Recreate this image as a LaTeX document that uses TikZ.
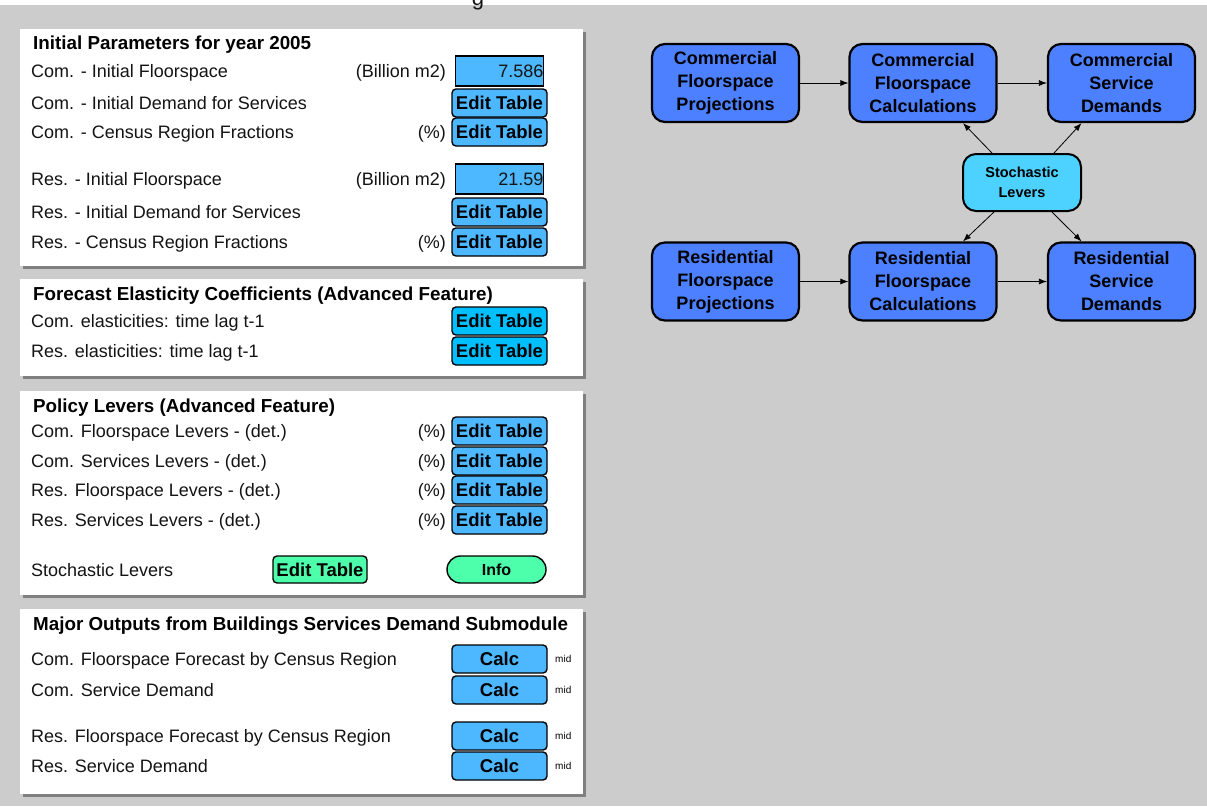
\documentclass[tikz,border=0pt]{standalone}
\usepackage{fontspec}
\setmainfont{Liberation Sans}
\usetikzlibrary{arrows.meta,calc}

\definecolor{bggray}{RGB}{204,204,204}
\definecolor{shadowgray}{RGB}{128,128,128}
\definecolor{btnblue}{RGB}{77,184,255}
\definecolor{btncyan}{RGB}{0,191,255}
\definecolor{btngreen}{RGB}{77,255,170}
\definecolor{flowblue}{RGB}{77,128,255}
\definecolor{flowcyan}{RGB}{77,210,255}
\definecolor{inktext}{RGB}{20,20,20}

\tikzset{
  lbl/.style={inner sep=0pt, yshift=-6.5pt, text=inktext, font=\fontsize{18}{21}\selectfont},
  ttl/.style={inner sep=0pt, yshift=-6.7pt, anchor=base west, text=black, font=\bfseries\fontsize{18.8}{21}\selectfont},
  unitlbl/.style={lbl, anchor=base east},
  rowlbl/.style={lbl, anchor=base west},
  btn/.style={draw=black, line width=1.4pt, rounded corners=4pt, inner sep=0pt,
    minimum width=95pt, minimum height=28pt, text=black,
    font=\bfseries\fontsize{18.5}{21}\selectfont},
  valbox/.style={draw=black, line width=1.8pt, fill=btnblue, inner sep=0pt,
    minimum height=30pt, text width=88pt, align=right, text=inktext,
    font=\fontsize{18}{21}\selectfont},
  pill/.style={btn, rounded corners=13.5pt, minimum width=99pt, minimum height=27pt,
    font=\bfseries\fontsize{16}{18}\selectfont},
  midlbl/.style={inner sep=0pt, anchor=west, text=black, font=\fontsize{10}{12}\selectfont},
  flow/.style={draw=black, line width=2.2pt, rounded corners=13pt, fill=flowblue,
    minimum width=147pt, minimum height=78pt, align=center, inner sep=0pt, text=black,
    font=\bfseries\fontsize{18}{23}\selectfont},
  lever/.style={draw=black, line width=2pt, rounded corners=13pt, fill=flowcyan,
    minimum width=118pt, minimum height=57pt, align=center, inner sep=0pt, text=black,
    font=\bfseries\fontsize{14.5}{20}\selectfont},
  link/.style={draw=black, line width=0.8pt, -{Latex[length=8pt,width=6pt]}},
}

% white panel with a grey drop shadow on its right and bottom edges
\newcommand{\panelbox}[4]{%
  \fill[shadowgray] (#1+3,#2+3) rectangle (#3+3,#4+3);
  \fill[white] (#1,#2) rectangle (#3,#4);
}

\begin{document}
\begin{tikzpicture}[x=1pt,y=-1pt]
\useasboundingbox (0,0) rectangle (1207,806);
\fill[bggray] (0,0) rectangle (1207,806);
\fill[white] (0,0) rectangle (1207,5);
% lower part of a heading letter that runs off the top edge
\node[inner sep=0pt, anchor=base, text=inktext, font=\fontsize{22}{24}\selectfont] (gfrag) at (478,5) {g};

% ---------------- panels ----------------
\panelbox{20}{29}{583}{266}
\panelbox{20}{279}{583}{376}
\panelbox{20}{391}{583}{595}
\panelbox{20}{609}{583}{794}

% ---------------- initial parameters ----------------
\node[ttl] (t1) at (33,43) {Initial Parameters for year 2005};
\node[rowlbl] (a1) at (31,71) {Com. - Initial Floorspace};
\node[unitlbl] (au1) at (446,71) {(Billion m2)};
\node[valbox] (av1) at (499.5,71) {7.586};
\node[rowlbl] (a2) at (31,103) {Com. - Initial Demand for Services};
\node[btn, fill=btnblue] (ab2) at (499.5,103) {Edit Table};
\node[rowlbl] (a3) at (31,132) {Com. - Census Region Fractions};
\node[unitlbl] (au3) at (446,132) {(\%)};
\node[btn, fill=btnblue] (ab3) at (499.5,132) {Edit Table};
\node[rowlbl] (a4) at (31,179) {Res. - Initial Floorspace};
\node[unitlbl] (au4) at (446,179) {(Billion m2)};
\node[valbox] (av4) at (499.5,179) {21.59};
\node[rowlbl] (a5) at (31,212) {Res. - Initial Demand for Services};
\node[btn, fill=btnblue] (ab5) at (499.5,212) {Edit Table};
\node[rowlbl] (a6) at (31,242) {Res. - Census Region Fractions};
\node[unitlbl] (au6) at (446,242) {(\%)};
\node[btn, fill=btnblue] (ab6) at (499.5,242) {Edit Table};

% ---------------- elasticities ----------------
\node[ttl] (t2) at (33,294) {Forecast Elasticity Coefficients (Advanced Feature)};
\node[rowlbl] (e1) at (31,321) {Com. elasticities: time lag t-1};
\node[btn, fill=btncyan] (eb1) at (499.5,321) {Edit Table};
\node[rowlbl] (e2) at (31,351) {Res. elasticities: time lag t-1};
\node[btn, fill=btncyan] (eb2) at (499.5,351) {Edit Table};

% ---------------- policy levers ----------------
\node[ttl] (t3) at (33,406) {Policy Levers (Advanced Feature)};
\node[rowlbl] (p1) at (31,431) {Com. Floorspace Levers - (det.)};
\node[unitlbl] (pu1) at (446,431) {(\%)};
\node[btn, fill=btnblue] (pb1) at (499.5,431) {Edit Table};
\node[rowlbl] (p2) at (31,461) {Com. Services Levers - (det.)};
\node[unitlbl] (pu2) at (446,461) {(\%)};
\node[btn, fill=btnblue] (pb2) at (499.5,461) {Edit Table};
\node[rowlbl] (p3) at (31,490) {Res. Floorspace Levers - (det.)};
\node[unitlbl] (pu3) at (446,490) {(\%)};
\node[btn, fill=btnblue] (pb3) at (499.5,490) {Edit Table};
\node[rowlbl] (p4) at (31,520) {Res. Services Levers - (det.)};
\node[unitlbl] (pu4) at (446,520) {(\%)};
\node[btn, fill=btnblue] (pb4) at (499.5,520) {Edit Table};
\node[rowlbl] (p5) at (31,570) {Stochastic Levers};
\node[btn, fill=btngreen, minimum width=94pt, minimum height=27pt] (pb5) at (320,569.5) {Edit Table};
\node[pill, fill=btngreen] (pinfo) at (496.5,569.5) {Info};

% ---------------- outputs ----------------
\node[ttl] (t4) at (33,624) {Major Outputs from Buildings Services Demand Submodule};
\node[rowlbl] (o1) at (31,659) {Com. Floorspace Forecast by Census Region};
\node[btn, fill=btnblue] (ob1) at (499.5,659) {Calc};
\node[midlbl] (om1) at (555,659) {mid};
\node[rowlbl] (o2) at (31,690) {Com. Service Demand};
\node[btn, fill=btnblue] (ob2) at (499.5,690) {Calc};
\node[midlbl] (om2) at (555,690) {mid};
\node[rowlbl] (o3) at (31,736) {Res. Floorspace Forecast by Census Region};
\node[btn, fill=btnblue] (ob3) at (499.5,736) {Calc};
\node[midlbl] (om3) at (555,736) {mid};
\node[rowlbl] (o4) at (31,766) {Res. Service Demand};
\node[btn, fill=btnblue] (ob4) at (499.5,766) {Calc};
\node[midlbl] (om4) at (555,766) {mid};

% ---------------- flow diagram ----------------
\node[flow] (cfp) at (725.5,83) {Commercial\\Floorspace\\Projections};
\node[flow] (cfc) at (923,83) {Commercial\\Floorspace\\Calculations};
\node[flow] (csd) at (1121.5,83) {Commercial\\Service\\Demands};
\node[flow] (rfp) at (725.5,281.5) {Residential\\Floorspace\\Projections};
\node[flow] (rfc) at (923,281.5) {Residential\\Floorspace\\Calculations};
\node[flow] (rsd) at (1121.5,281.5) {Residential\\Service\\Demands};
\node[lever] (sl) at (1022,182.5) {Stochastic\\Levers};

\draw[link] (cfp.east) -- (cfc.west);
\draw[link] (cfc.east) -- (csd.west);
\draw[link] (rfp.east) -- (rfc.west);
\draw[link] (rfc.east) -- (rsd.west);
\draw[link] ($(sl.north)+(-30,0)$) -- ($(cfc.south)+(40,0)$);
\draw[link] ($(sl.north)+(32,0)$) -- ($(csd.south)+(-40,0)$);
\draw[link] ($(sl.south)+(-28,0)$) -- ($(rfc.north)+(40,0)$);
\draw[link] ($(sl.south)+(30,0)$) -- ($(rsd.north)+(-40,0)$);
\end{tikzpicture}
\end{document}
